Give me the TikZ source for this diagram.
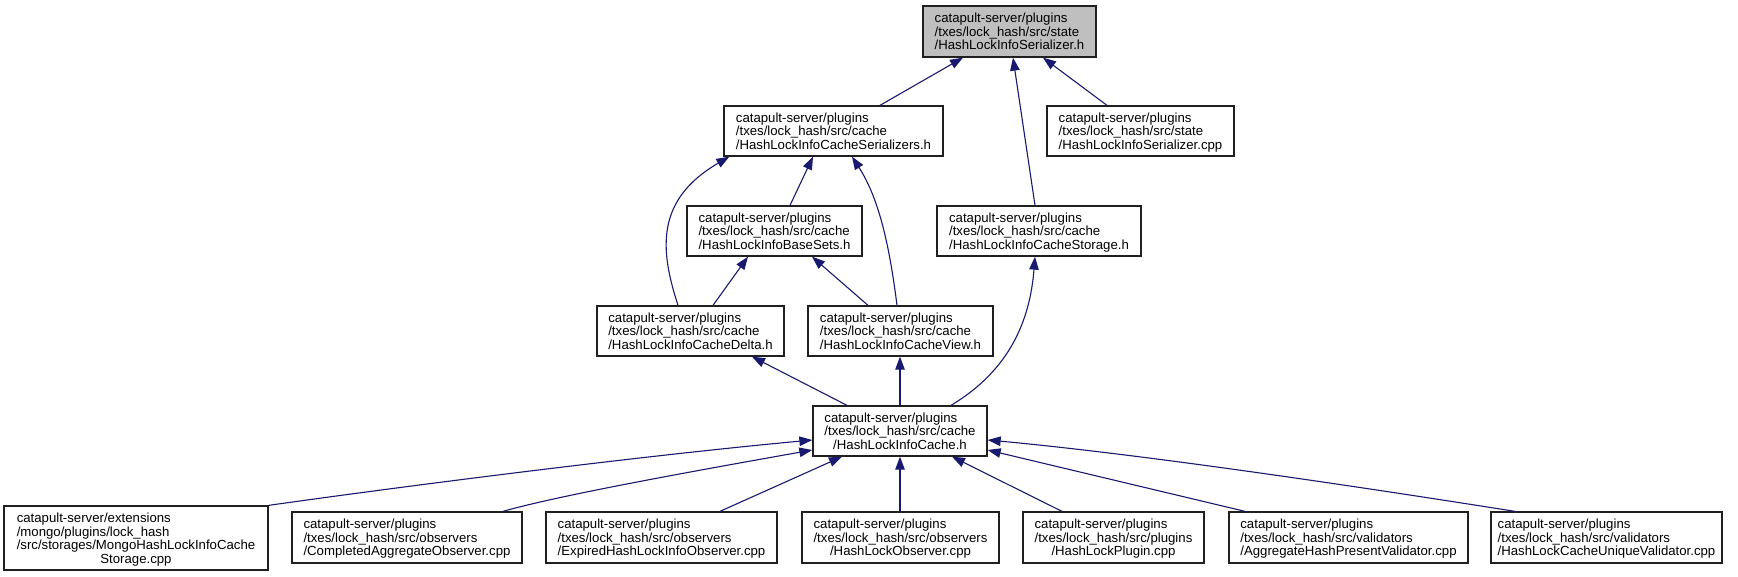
\documentclass[tikz,border=0pt]{standalone}
\usepackage{fontspec}
\setmainfont{Liberation Sans}
\usetikzlibrary{arrows.meta}
\definecolor{edgeblue}{HTML}{191970}
\definecolor{topgray}{HTML}{BFBFBF}
\definecolor{boxline}{HTML}{202020}
\newcommand{\lbl}[2]{\raisebox{-2pt}[\height][\depth]{\begin{tabular}{@{}l@{}}#1\\\multicolumn{1}{@{}c@{}}{#2}\end{tabular}}}
\begin{document}
\begin{tikzpicture}[x=1pt,y=-1pt,
  box/.style={draw=boxline, line width=1.3pt, fill=white, inner sep=0pt, minimum height=50pt, font=\fontsize{13.2}{13.4}\selectfont},
  dep/.style={draw=edgeblue, line width=1.1pt, -{Triangle[length=13pt,width=9.5pt]}},
]
\useasboundingbox[fill=white] (0,0) rectangle (1738,576);

\node[box, fill=topgray, minimum width=173pt, minimum height=51pt] (top) at (1009.5,31.5) {\lbl{catapult-server/plugins\\/txes/lock\_hash/src/state}{/HashLockInfoSerializer.h}};
\node[box, minimum width=219pt] (ser) at (833.5,131) {\lbl{catapult-server/plugins\\/txes/lock\_hash/src/cache}{/HashLockInfoCacheSerializers.h}};
\node[box, minimum width=187pt] (sercpp) at (1140.5,131) {\lbl{catapult-server/plugins\\/txes/lock\_hash/src/state}{/HashLockInfoSerializer.cpp}};
\node[box, minimum width=175pt] (base) at (774.5,231) {\lbl{catapult-server/plugins\\/txes/lock\_hash/src/cache}{/HashLockInfoBaseSets.h}};
\node[box, minimum width=204pt] (storage) at (1039,231) {\lbl{catapult-server/plugins\\/txes/lock\_hash/src/cache}{/HashLockInfoCacheStorage.h}};
\node[box, minimum width=187pt] (delta) at (690.5,331) {\lbl{catapult-server/plugins\\/txes/lock\_hash/src/cache}{/HashLockInfoCacheDelta.h}};
\node[box, minimum width=185pt] (view) at (900.5,331) {\lbl{catapult-server/plugins\\/txes/lock\_hash/src/cache}{/HashLockInfoCacheView.h}};
\node[box, minimum width=174pt] (cache) at (900,431) {\lbl{catapult-server/plugins\\/txes/lock\_hash/src/cache}{/HashLockInfoCache.h}};

\node[box, minimum width=264pt, minimum height=64pt] (mongo) at (136,538) {\lbl{catapult-server/extensions\\/mongo/plugins/lock\_hash\\/src/storages/MongoHashLockInfoCache}{Storage.cpp}};
\node[box, minimum width=230pt, minimum height=51pt] (completed) at (407,537.5) {\lbl{catapult-server/plugins\\/txes/lock\_hash/src/observers}{/CompletedAggregateObserver.cpp}};
\node[box, minimum width=231pt, minimum height=51pt] (expired) at (661.5,537.5) {\lbl{catapult-server/plugins\\/txes/lock\_hash/src/observers}{/ExpiredHashLockInfoObserver.cpp}};
\node[box, minimum width=197pt, minimum height=51pt] (hlobs) at (900.5,537.5) {\lbl{catapult-server/plugins\\/txes/lock\_hash/src/observers}{/HashLockObserver.cpp}};
\node[box, minimum width=181pt, minimum height=51pt] (plugin) at (1113.5,537.5) {\lbl{catapult-server/plugins\\/txes/lock\_hash/src/plugins}{/HashLockPlugin.cpp}};
\node[box, minimum width=239pt, minimum height=51pt] (aggr) at (1348.5,537.5) {\lbl{catapult-server/plugins\\/txes/lock\_hash/src/validators}{/AggregateHashPresentValidator.cpp}};
\node[box, minimum width=231pt, minimum height=51pt] (unique) at (1606.5,537.5) {\lbl{catapult-server/plugins\\/txes/lock\_hash/src/validators}{/HashLockCacheUniqueValidator.cpp}};

% upper edges
\draw[dep] ([xshift=46.5pt]ser.north) -- ([xshift=-46.5pt]top.south);
\draw[dep] ([xshift=-4pt]storage.north) -- ([xshift=3.5pt]top.south);
\draw[dep] ([xshift=-33.5pt]sercpp.north) -- ([xshift=33.5pt]top.south);
\draw[dep] ([xshift=-12.5pt]delta.north) .. controls (660,250) and (655,200) .. ([xshift=6pt]ser.south west);
\draw[dep] ([xshift=15.5pt]base.north) -- ([xshift=-20.5pt]ser.south);
\draw[dep] ([xshift=-3.5pt]view.north) .. controls (890,250) and (880,200) .. ([xshift=18.5pt]ser.south);
\draw[dep] ([xshift=22.5pt]delta.north) -- ([xshift=-26.5pt]base.south);
\draw[dep] ([xshift=-32.5pt]view.north) -- ([xshift=37.5pt]base.south);
\draw[dep] ([xshift=51pt]cache.north) .. controls (1010,370) and (1030,320) .. ([xshift=-4pt]storage.south);
\draw[dep] ([xshift=-53pt]cache.north) -- ([xshift=61.5pt]delta.south);
\draw[dep] (cache.north) -- (cache.north |- view.south);

% lower edges
\draw[dep] (mongo.north east) .. controls (420,484) and (650,455) .. ([yshift=-9pt]cache.west);
\draw[dep] ([xshift=96pt]completed.north) .. controls (560,495) and (700,470) .. ([yshift=-19pt]cache.west);
\draw[dep] ([xshift=58.5pt]expired.north) -- ([xshift=-58pt]cache.south);
\draw[dep] (hlobs.north -| cache.south) -- (cache.south);
\draw[dep] ([xshift=-51.5pt]plugin.north) -- ([xshift=52pt]cache.south);
\draw[dep] ([xshift=-103.5pt]aggr.north) -- ([yshift=-19pt]cache.east);
\draw[dep] ([xshift=-91.5pt]unique.north) .. controls (1380,490) and (1150,455) .. ([yshift=-9pt]cache.east);
\end{tikzpicture}
\end{document}
